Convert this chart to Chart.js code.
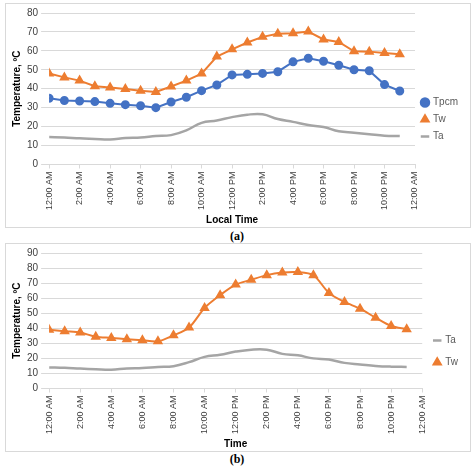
<!DOCTYPE html>
<html><head>
<script src="https://cdn.jsdelivr.net/npm/chart.js@4"></script>
<style>
body{margin:0;background:#fff;font-family:"Liberation Sans",Arial,sans-serif;}
.frame{position:absolute;left:5px;width:464px;border:1px solid #d9d9d9;}
.cap{position:absolute;left:0;width:474px;text-align:center;font-family:"Liberation Serif",serif;font-size:12px;font-weight:bold;}
</style>
</head><body>
<div class="frame" style="top:3px;height:223px"><canvas id="ca"></canvas></div>
<div class="cap" style="top:229px">(a)</div>
<div class="frame" style="top:243px;height:207px"><canvas id="cb"></canvas></div>
<div class="cap" style="top:452px">(b)</div>
<script>
const hours = Array.from({length: 24}, (_, i) => i);
const tickLabels = ['12:00 AM','2:00 AM','4:00 AM','6:00 AM','8:00 AM','10:00 AM','12:00 PM','2:00 PM','4:00 PM','6:00 PM','8:00 PM','10:00 PM','12:00 AM'];

const tpcmA = [35,33.8,33.5,33.2,32.3,31.6,31,30,33,35.5,39,42,47.3,47.6,48.1,49,54.2,56.1,54.5,52.4,50,49.5,42.2,38.8];
const twA = [48,46,44.3,41.3,40.6,39.8,39,38.3,41.2,44.3,48,57,60.8,64.4,67.4,69,69.3,70.2,66,64.7,59.8,59.6,58.9,58.2];
const taA = [14.5,14.3,13.8,13.5,13.2,14,14.3,15,15.5,18,22,23.2,25,26.3,26.5,24,22.5,20.8,19.8,17.5,16.8,16,15.2,15];
const twB = [39,38,37.2,34.4,33.6,32.7,32,31.3,35.3,40.5,53.5,62,69,72.2,75.3,77,77.3,75.2,63.5,57.5,53,47,41.5,39.4];
const taB = [14,13.7,13.2,12.8,12.5,13.3,13.6,14.3,14.8,17.5,21,22.4,24.5,25.8,25.8,23,22,20,19.2,17,16,15,14.5,14.3];

const blue = '#4472c4', orange = '#ed7d31', gray = '#a5a5a5';
const pts = arr => arr.map((v, i) => ({x: hours[i], y: v}));

function makeChart(id, datasets, yMax, xTitle, legendPad) {
  new Chart(document.getElementById(id), {
    type: 'line',
    data: {datasets},
    options: {
      responsive: true, maintainAspectRatio: false, animation: false,
      layout: {padding: {top: 8, right: 2, left: 4}},
      plugins: {
        legend: {position: 'right', align: 'center',
          labels: {usePointStyle: true, boxWidth: 6, boxHeight: 6, padding: legendPad, color: '#595959', font: {size: 10}}},
        tooltip: {enabled: false}
      },
      scales: {
        x: {type: 'linear', min: 0, max: 24,
          ticks: {stepSize: 2, maxRotation: 90, minRotation: 90, color: '#404040', font: {size: 9},
            callback: v => tickLabels[v / 2]},
          grid: {drawOnChartArea: false, color: '#d9d9d9', tickLength: 4},
          border: {color: '#d9d9d9'},
          title: {display: true, text: xTitle, color: '#000', font: {size: 10, weight: 'bold'}, padding: 1}},
        y: {min: 0, max: yMax,
          ticks: {stepSize: 10, color: '#404040', font: {size: 10}},
          grid: {color: '#d9d9d9'}, border: {display: false},
          title: {display: true, text: 'Temperature, \u00baC', color: '#000', font: {size: 10, weight: 'bold'}, padding: 1}}
      }
    }
  });
}

makeChart('ca', [
  {label: 'Tpcm', data: pts(tpcmA), borderColor: blue, backgroundColor: blue, borderWidth: 2, pointStyle: 'circle', pointRadius: 3.5},
  {label: 'Tw', data: pts(twA), borderColor: orange, backgroundColor: orange, borderWidth: 2, pointStyle: 'triangle', pointRadius: 4},
  {label: 'Ta', data: pts(taA), borderColor: gray, backgroundColor: gray, borderWidth: 2.5, pointRadius: 0, pointStyle: 'line', tension: 0.4}
], 80, 'Local Time', 7);

makeChart('cb', [
  {label: 'Ta', data: pts(taB), borderColor: gray, backgroundColor: gray, borderWidth: 2.5, pointRadius: 0, pointStyle: 'line', tension: 0.4},
  {label: 'Tw', data: pts(twB), borderColor: orange, backgroundColor: orange, borderWidth: 2, pointStyle: 'triangle', pointRadius: 4, tension: 0.3}
], 90, 'Time', 12);
</script>
</body></html>
